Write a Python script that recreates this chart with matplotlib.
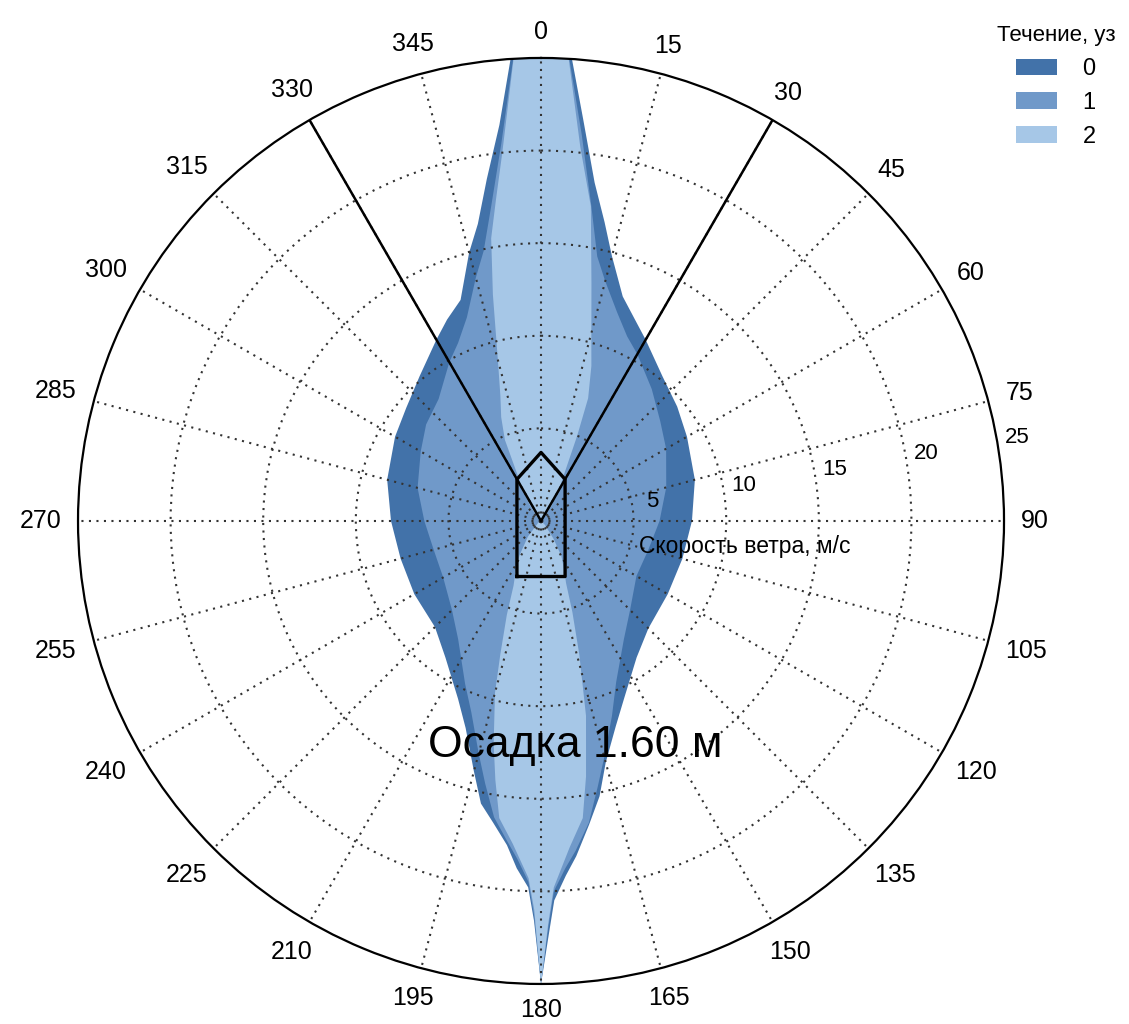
import numpy as np
import matplotlib
matplotlib.use("Agg")
import matplotlib.pyplot as plt
from matplotlib.patches import Patch

plt.rcParams['font.family'] = ['Liberation Sans', 'DejaVu Sans']

# направления ветра (градусы) и предельная скорость ветра (м/с) для каждого течения
dark_deg = [0, 3, 6, 9, 12, 15, 20, 25, 30, 40, 50, 60, 75, 90, 105, 120, 135, 145, 155, 160,
            165, 168, 171, 174, 176, 178, 179, 180, 181, 182, 184, 186, 189, 192, 195, 200, 205,
            215, 225, 240, 255, 270, 285, 300, 310, 320, 330, 335, 340, 345, 348, 351, 354, 357]
dark_r = [28, 26.5, 21.8, 18.5, 16.5, 14.8, 12.9, 12.0, 11.3, 10.2, 9.6, 9.1, 8.6, 8.15, 7.9, 7.9,
          8.2, 9.0, 10.6, 11.8, 13.5, 15.2, 16.6, 18.2, 19.2, 20.5, 22.5, 25, 21.6, 19.8, 18.8,
          17.6, 16.5, 15.6, 14.0, 11.9, 10.6, 9.0, 8.1, 7.9, 7.85, 8.1, 8.6, 9.1, 9.5, 10.2, 11.3,
          12.0, 12.7, 15.0, 16.4, 18.7, 21.5, 26.5]

mid_deg = dark_deg
mid_r = [28, 26.0, 21.0, 17.3, 14.6, 13.4, 12.0, 11.0, 10.4, 9.3, 8.4, 7.8, 7.0, 6.4, 6.0, 5.95,
         6.8, 7.8, 9.6, 11.2, 13.2, 14.7, 16.5, 17.9, 18.8, 20.0, 22.0, 25, 21.3, 19.5, 18.3,
         17.4, 16.2, 14.5, 13.0, 11.0, 9.7, 7.8, 6.8, 6.1, 6.0, 6.3, 6.9, 7.5, 8.1, 8.6, 9.9,
         10.6, 11.7, 13.6, 14.9, 17.2, 20.5, 26.0]

light_deg = [0, 3, 6, 9, 12, 15, 18, 21, 23, 25, 28, 35, 45, 60, 90, 120, 135, 145, 150, 155,
             158, 161, 164, 167, 170, 172, 175, 178, 179, 180, 181, 182, 185, 188, 190, 192, 195,
             197, 200, 203, 207, 212, 220, 235, 270, 300, 315, 325, 330, 333, 336, 339, 342, 345,
             348, 350, 352, 354, 357]
light_r = [28, 26, 20.3, 17.2, 13.1, 10.5, 8.8, 7.1, 5.0, 3.4, 2.3, 1.0, 0.2, 0, 0, 0,
           0.3, 1.2, 2.2, 3.0, 3.6, 5.2, 7.5, 10.8, 14.0, 16.2, 17.7, 19.8, 21.8, 25, 21.0, 19.3,
           17.5, 16.2, 14.2, 12.3, 9.6, 7.5, 5.4, 3.8, 3.0, 2.2, 1.1, 0.2, 0, 0, 0.3, 1.1,
           2.0, 2.8, 4.8, 6.0, 7.1, 9.0, 12.5, 15.5, 17.5, 20.0, 26]

currents = ['0', '1', '2']
colors = ['#4272a9', '#7099c9', '#a6c7e7']
r_ticks = [5, 10, 15, 20, 25]
sector_deg = [330, 30]

# контур судна (в м/с по осям X, Y)
ship_x = [-1.3, -1.3, 0, 1.3, 1.3, -1.3]
ship_y = [-3.0, 2.25, 3.7, 2.25, -3.0, -3.0]

fig = plt.figure(figsize=(11.29, 10.24), dpi=100)
ax = fig.add_axes([0.0691, 0.0391, 0.8202, 0.9043], projection='polar')
ax.set_theta_zero_location('N')
ax.set_theta_direction(-1)
ax.set_ylim(0, 25)

for deg, rr, col in zip([dark_deg, mid_deg, light_deg], [dark_r, mid_r, light_r], colors):
    ax.fill(np.deg2rad(deg), rr, color=col, lw=0, zorder=1)

ax.set_axisbelow(False)
ax.set_xticks(np.deg2rad(np.arange(0, 360, 15)))
ax.set_xticklabels([])
ax.set_yticks(r_ticks[:-1])
ax.set_yticklabels([])
ax.grid(True, color='#333333', linestyle=(0, (1, 2.6)), linewidth=1.5)
ax.spines['polar'].set_color('black')
ax.spines['polar'].set_linewidth(1.6)

# подписи направлений
fs = 18
gap = 12
for deg in range(0, 360, 15):
    t = np.deg2rad(deg)
    s, c = np.sin(t), np.cos(t)
    lab = str(deg)
    w = len(lab) * 0.556 * fs
    h = 0.72 * fs
    off = gap + 0.5 * w * abs(s) + 0.5 * h * abs(c)
    ax.annotate(lab, xy=(t, 25), xytext=(off * s, off * c), textcoords='offset points',
                ha='center', va='center', fontsize=fs, annotation_clip=False)

# подписи скорости ветра
for v in r_ticks:
    ax.text(np.deg2rad(80), v + 1.1, str(v), ha='center', va='center', fontsize=16, zorder=5)

for d in sector_deg:
    ax.plot([np.deg2rad(d)] * 2, [0, 25], color='black', lw=1.8, zorder=4)

ax.plot([0.5 + x / 50 for x in ship_x], [0.5 + y / 50 for y in ship_y],
        transform=ax.transAxes, color='black', lw=2.4, zorder=5)

fig.text(745 / 1129, 1 - 547 / 1024, 'Скорость ветра, м/с', ha='center', va='center',
         fontsize=16.5)
fig.text(575 / 1129, 1 - 745 / 1024, 'Осадка 1.60 м', ha='center', va='center', fontsize=32)

handles = [Patch(facecolor=c, edgecolor='none', label=l) for c, l in zip(colors, currents)]
fig.legend(handles=handles, title='Течение, уз', loc='upper center',
           bbox_to_anchor=(1056 / 1129, 1 - 4 / 1024), frameon=False, fontsize=17,
           title_fontsize=16, handlelength=1.7, handleheight=0.7, labelspacing=0.5,
           handletextpad=1.1, alignment='center')

fig.savefig('out.png', dpi=100)
